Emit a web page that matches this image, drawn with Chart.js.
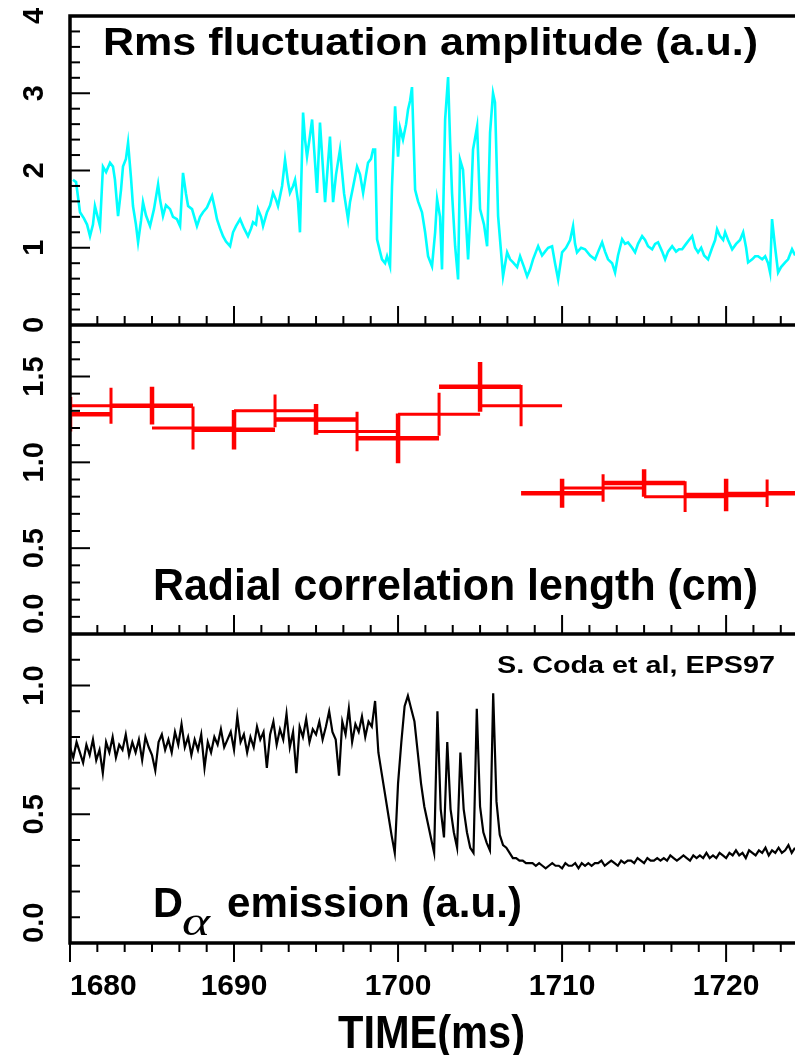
<!DOCTYPE html>
<html>
<head>
<meta charset="utf-8">
<script src="https://cdn.jsdelivr.net/npm/chart.js@4.4.1/dist/chart.umd.min.js"></script>
<style>
  html, body { margin: 0; padding: 0; background: #fff; overflow: hidden; }
  #wrap { position: relative; width: 795px; height: 1055px; }
</style>
</head>
<body>
<div id="wrap"><canvas id="chart"></canvas></div>
<script>
// shared time axis (ms)
const timeMin = 1680;
const timeMax = 1724.2;
const timeTicks = [1680, 1690, 1700, 1710, 1720];
const timeMinorStep = 10 / 6;

// top panel: rms fluctuation amplitude
const rmsTime = [
  1680.18, 1680.37, 1680.61, 1680.85, 1681.04, 1681.22, 1681.40, 1681.52, 1681.71, 1681.83,
  1682.01, 1682.20, 1682.44, 1682.62, 1682.74, 1682.93, 1683.11, 1683.23, 1683.41, 1683.54,
  1683.72, 1683.84, 1684.02, 1684.15, 1684.33, 1684.45, 1684.63, 1684.88, 1685.12, 1685.37,
  1685.49, 1685.67, 1685.85, 1686.10, 1686.28, 1686.52, 1686.71, 1686.89, 1687.07, 1687.20,
  1687.44, 1687.74, 1687.93, 1688.11, 1688.35, 1688.66, 1688.84, 1688.96, 1689.15, 1689.33,
  1689.51, 1689.76, 1689.94, 1690.12, 1690.37, 1690.61, 1690.85, 1691.04, 1691.16, 1691.34,
  1691.46, 1691.65, 1691.77, 1692.01, 1692.20, 1692.38, 1692.56, 1692.68, 1692.93, 1693.11,
  1693.29, 1693.41, 1693.60, 1693.72, 1693.90, 1694.02, 1694.21, 1694.33, 1694.45, 1694.63,
  1694.76, 1694.94, 1695.06, 1695.24, 1695.43, 1695.55, 1695.73, 1695.85, 1696.04, 1696.22,
  1696.46, 1696.71, 1696.95, 1697.07, 1697.26, 1697.50, 1697.68, 1697.87, 1698.05, 1698.17,
  1698.35, 1698.48, 1698.60, 1698.72, 1698.90, 1699.02, 1699.21, 1699.33, 1699.51, 1699.63,
  1699.82, 1700.00, 1700.12, 1700.30, 1700.49, 1700.61, 1700.73, 1700.85, 1701.04, 1701.22,
  1701.46, 1701.65, 1701.83, 1702.07, 1702.26, 1702.38, 1702.56, 1702.68, 1702.87, 1703.05,
  1703.17, 1703.29, 1703.48, 1703.66, 1703.78, 1703.96, 1704.15, 1704.27, 1704.45, 1704.57,
  1704.82, 1705.00, 1705.24, 1705.43, 1705.61, 1705.79, 1705.91, 1706.10, 1706.22, 1706.40,
  1706.65, 1706.83, 1707.01, 1707.26, 1707.44, 1707.68, 1707.87, 1708.05, 1708.23, 1708.41,
  1708.54, 1708.78, 1708.96, 1709.15, 1709.39, 1709.57, 1709.76, 1710.00, 1710.24, 1710.49,
  1710.67, 1710.79, 1710.91, 1711.16, 1711.40, 1711.71, 1712.01, 1712.20, 1712.44, 1712.62,
  1712.80, 1713.05, 1713.23, 1713.41, 1713.66, 1713.84, 1714.02, 1714.27, 1714.45, 1714.63,
  1714.88, 1715.06, 1715.24, 1715.49, 1715.67, 1715.85, 1716.10, 1716.28, 1716.46, 1716.71,
  1716.95, 1717.13, 1717.32, 1717.56, 1717.74, 1717.93, 1718.11, 1718.29, 1718.48, 1718.66,
  1718.90, 1719.15, 1719.33, 1719.45, 1719.63, 1719.82, 1719.94, 1720.12, 1720.37, 1720.61,
  1720.85, 1721.04, 1721.22, 1721.34, 1721.59, 1721.77, 1721.95, 1722.20, 1722.38, 1722.56,
  1722.68, 1722.80, 1722.99, 1723.17, 1723.35, 1723.60, 1723.78, 1724.02, 1724.21,
];
const rmsValue = [
  1.88, 1.85, 1.46, 1.38, 1.30, 1.15, 1.30, 1.54, 1.38, 1.28,
  2.05, 1.98, 2.10, 2.05, 1.88, 1.41, 1.75, 2.05, 2.15, 2.36,
  1.90, 1.54, 1.30, 1.07, 1.35, 1.59, 1.42, 1.28, 1.50, 1.82,
  1.62, 1.41, 1.55, 1.50, 1.40, 1.37, 1.28, 1.97, 1.70, 1.54,
  1.50, 1.28, 1.40, 1.46, 1.52, 1.67, 1.50, 1.37, 1.25, 1.15,
  1.08, 1.02, 1.20, 1.28, 1.37, 1.25, 1.15, 1.25, 1.33, 1.30,
  1.50, 1.40, 1.28, 1.46, 1.55, 1.71, 1.62, 1.54, 1.80, 2.14,
  1.85, 1.71, 1.80, 1.88, 1.60, 1.20, 2.75, 2.40, 2.18, 2.45,
  2.66, 2.10, 1.71, 2.62, 2.00, 1.59, 2.10, 2.44, 1.59, 1.95,
  2.27, 1.70, 1.37, 1.59, 1.79, 2.05, 1.95, 1.71, 1.95, 2.10,
  2.15, 2.27, 2.27, 1.11, 0.95, 0.85, 0.80, 0.89, 0.76, 1.79,
  2.83, 2.18, 2.55, 2.40, 2.60, 2.79, 2.90, 3.08, 1.75, 1.60,
  1.46, 1.20, 0.89, 0.76, 1.20, 1.63, 1.40, 0.72, 2.66, 3.21,
  2.40, 1.71, 1.02, 0.59, 2.14, 2.01, 1.30, 0.85, 1.60, 2.27,
  2.57, 1.50, 1.30, 1.02, 2.49, 3.00, 2.88, 1.41, 1.10, 0.63,
  0.94, 0.85, 0.81, 0.75, 0.89, 0.75, 0.63, 0.72, 0.85, 0.95,
  1.02, 0.90, 0.95, 1.00, 1.02, 0.80, 0.59, 0.94, 1.00, 1.10,
  1.28, 1.05, 0.94, 1.00, 0.98, 0.90, 0.85, 0.95, 1.07, 0.95,
  0.85, 0.80, 0.68, 0.90, 1.11, 1.05, 1.07, 1.00, 0.94, 1.05,
  1.15, 1.10, 1.02, 0.98, 1.05, 1.07, 0.95, 0.85, 0.95, 1.02,
  0.95, 0.98, 0.98, 1.05, 1.10, 1.15, 1.00, 0.94, 1.00, 0.90,
  0.85, 1.00, 1.10, 1.24, 1.15, 1.10, 1.20, 1.10, 0.98, 1.05,
  1.10, 1.20, 1.00, 0.81, 0.85, 0.89, 0.89, 0.85, 0.89, 0.80,
  0.68, 1.37, 1.00, 0.68, 0.75, 0.81, 0.85, 0.98, 0.90,
];
const rmsTicks = [0, 1, 2, 3, 4];
const rmsTickLabels = ['0', '1', '2', '3', '4'];

// middle panel: radial correlation length, two interleaved sets of 5 ms windows
const corrHalfWidth = 2.5;
const corrCentersA = [1680, 1685, 1690, 1695, 1700, 1705, 1710, 1715, 1720, 1725];
const corrValuesA = [1.28, 1.33, 1.19, 1.25, 1.14, 1.44, 0.82, 0.88, 0.81, 0.82];
const corrErrorsA = [0.10, 0.11, 0.115, 0.09, 0.145, 0.145, 0.085, 0.08, 0.095, 0.08];
const corrCentersB = [1682.5, 1687.5, 1692.5, 1697.5, 1702.5, 1707.5, 1712.5, 1717.5, 1722.5];
const corrValuesB = [1.33, 1.20, 1.30, 1.18, 1.28, 1.33, 0.85, 0.80, 0.82];
const corrErrorsB = [0.105, 0.125, 0.095, 0.115, 0.125, 0.12, 0.08, 0.09, 0.08];
const corrTicks = [0, 0.5, 1.0, 1.5];
const corrTickLabels = ['0.0', '0.5', '1.0', '1.5'];

// bottom panel: D-alpha emission, sampled every 0.2 ms from 1680 ms
const daStart = 1680;
const daStep = 0.2;
const daValue = [
  0.76, 0.72, 0.78, 0.74, 0.70, 0.77, 0.73, 0.79, 0.71, 0.75,
  0.66, 0.78, 0.74, 0.80, 0.72, 0.77, 0.75, 0.81, 0.73, 0.78,
  0.74, 0.79, 0.71, 0.80, 0.76, 0.73, 0.67, 0.78, 0.81, 0.75,
  0.79, 0.74, 0.82, 0.77, 0.85, 0.76, 0.80, 0.73, 0.79, 0.75,
  0.81, 0.68, 0.78, 0.74, 0.80, 0.77, 0.83, 0.76, 0.79, 0.82,
  0.75, 0.88, 0.78, 0.81, 0.74, 0.80, 0.76, 0.84, 0.79, 0.82,
  0.68, 0.81, 0.86, 0.77, 0.83, 0.79, 0.89, 0.76, 0.82, 0.66,
  0.84, 0.80, 0.87, 0.78, 0.83, 0.81, 0.86, 0.79, 0.84, 0.90,
  0.82, 0.79, 0.65, 0.86, 0.81, 0.91, 0.78, 0.85, 0.82, 0.88,
  0.80, 0.86, 0.84, 0.94, 0.74, 0.66, 0.58, 0.50, 0.42, 0.35,
  0.62, 0.78, 0.92, 0.96, 0.91, 0.86, 0.74, 0.62, 0.53, 0.47,
  0.41, 0.35, 0.90, 0.52, 0.41, 0.78, 0.52, 0.43, 0.37, 0.74,
  0.52, 0.43, 0.37, 0.35, 0.91, 0.53, 0.43, 0.39, 0.36, 0.97,
  0.55, 0.42, 0.38, 0.37, 0.35, 0.33, 0.33, 0.32, 0.32, 0.31,
  0.31, 0.31, 0.30, 0.31, 0.30, 0.29, 0.30, 0.31, 0.30, 0.30,
  0.29, 0.31, 0.30, 0.30, 0.31, 0.29, 0.31, 0.30, 0.31, 0.30,
  0.31, 0.31, 0.32, 0.30, 0.31, 0.32, 0.31, 0.30, 0.32, 0.31,
  0.32, 0.32, 0.31, 0.33, 0.32, 0.31, 0.33, 0.32, 0.32, 0.33,
  0.32, 0.33, 0.32, 0.34, 0.33, 0.32, 0.33, 0.34, 0.33, 0.32,
  0.34, 0.33, 0.34, 0.33, 0.35, 0.33, 0.34, 0.33, 0.35, 0.34,
  0.33, 0.35, 0.34, 0.36, 0.34, 0.35, 0.33, 0.36, 0.35, 0.34,
  0.36, 0.35, 0.37, 0.34, 0.36, 0.35, 0.37, 0.35, 0.36, 0.38,
  0.35, 0.37, 0.36,
];
const daTicks = [0, 0.5, 1.0];
const daTickLabels = ['0.0', '0.5', '1.0'];

const sans = '"Liberation Sans", Arial, Helvetica, sans-serif';

const crossPoints = (centers, values, errors) => {
  const pts = [];
  centers.forEach((c, i) => {
    const v = values[i];
    pts.push({ x: c - corrHalfWidth, y: v }, { x: c + corrHalfWidth, y: v }, { x: c, y: null });
    pts.push({ x: c, y: v - errors[i] }, { x: c, y: v + errors[i] }, { x: c, y: null });
  });
  return pts;
};

const drawText = (ctx, text, x, y, size, width, style = 'bold', family = sans) => {
  ctx.save();
  ctx.font = `${style} ${size}px ${family}`;
  ctx.fillStyle = '#000';
  ctx.textAlign = 'left';
  ctx.textBaseline = 'alphabetic';
  const natural = ctx.measureText(text).width;
  ctx.translate(x, y);
  if (width) ctx.scale(width / natural, 1);
  ctx.fillText(text, 0, 0);
  ctx.restore();
};

const near = (list, v) => list.some((t) => Math.abs(t - v) < 1e-6);

const framePlugin = {
  id: 'frame',
  afterDraw(chart) {
    const { ctx, chartArea, scales } = chart;
    const xs = scales.x;
    const panels = [
      { scale: scales.yRms, ticks: rmsTicks, labels: rmsTickLabels, step: 0.2, bottomAlign: 'center' },
      { scale: scales.yCorr, ticks: corrTicks, labels: corrTickLabels, step: 0.1, bottomAlign: 'left' },
      { scale: scales.yDa, ticks: daTicks, labels: daTickLabels, step: 0.1, bottomAlign: 'left' },
    ];
    const left = chartArea.left;
    const right = chartArea.right;

    ctx.save();
    ctx.strokeStyle = '#000';
    ctx.lineWidth = 2;

    // left axis ticks, pointing inward
    panels.forEach((p) => {
      const { min, max } = p.scale;
      const n = Math.round((max - min) / p.step);
      for (let k = 0; k <= n; k++) {
        const v = min + k * p.step;
        const y = p.scale.getPixelForValue(v);
        const len = near(p.ticks, v) ? 20 : 10;
        ctx.beginPath();
        ctx.moveTo(left, y);
        ctx.lineTo(left + len, y);
        ctx.stroke();
      }
    });

    // time ticks: inward on the two upper panel bottoms, outward below the last panel
    const tickRows = [
      { y: scales.yRms.bottom, dir: -1 },
      { y: scales.yCorr.bottom, dir: -1 },
      { y: scales.yDa.bottom, dir: 1 },
    ];
    const nx = Math.floor((timeMax - timeMin) / timeMinorStep + 1e-6);
    for (let k = 0; k <= nx; k++) {
      const t = timeMin + k * timeMinorStep;
      const x = xs.getPixelForValue(t);
      const major = near(timeTicks, Math.round(t * 1000) / 1000);
      tickRows.forEach((row) => {
        const len = major ? 19 : 9;
        ctx.beginPath();
        ctx.moveTo(x, row.y);
        ctx.lineTo(x, row.y + row.dir * len);
        ctx.stroke();
      });
    }

    // frame
    ctx.lineWidth = 3.5;
    ctx.beginPath();
    ctx.moveTo(left, chartArea.top - 1.75);
    ctx.lineTo(left, chartArea.bottom + 1.75);
    [chartArea.top, scales.yRms.bottom, scales.yCorr.bottom, chartArea.bottom].forEach((y) => {
      ctx.moveTo(left - 1.75, y);
      ctx.lineTo(right + 2, y);
    });
    ctx.stroke();

    // rotated y tick labels
    ctx.fillStyle = '#000';
    ctx.font = `bold 29px ${sans}`;
    ctx.textBaseline = 'alphabetic';
    panels.forEach((p) => {
      p.ticks.forEach((v, i) => {
        const y = p.scale.getPixelForValue(v);
        ctx.save();
        ctx.translate(43, y);
        ctx.rotate(-Math.PI / 2);
        ctx.textAlign = v === p.scale.min ? p.bottomAlign : 'center';
        ctx.fillText(p.labels[i], 0, 0);
        ctx.restore();
      });
    });

    // time tick labels
    ctx.font = `bold 30px ${sans}`;
    timeTicks.forEach((t, i) => {
      const x = xs.getPixelForValue(t);
      ctx.textAlign = i === 0 ? 'left' : 'center';
      ctx.fillText(String(t), x, 995);
    });
    ctx.restore();

    // panel captions and axis title
    drawText(ctx, 'Rms fluctuation amplitude (a.u.)', 103, 55, 39, 655);
    drawText(ctx, 'Radial correlation length (cm)', 153, 600, 44, 605);
    drawText(ctx, 'D', 153, 917, 42, 30);
    drawText(ctx, '\u03B1', 182, 935, 40, 28, 'italic', '"Liberation Serif", "Times New Roman", serif');
    drawText(ctx, 'emission (a.u.)', 227, 917, 42, 295);
    drawText(ctx, 'S. Coda et al, EPS97', 497, 673, 24, 278);
    drawText(ctx, 'TIME(ms)', 338, 1048, 46, 187);
  },
};

const panelAxis = (min, max, weight) => ({
  type: 'linear',
  position: 'left',
  stack: 'panels',
  stackWeight: 1,
  weight,
  min,
  max,
  grid: { display: false },
  border: { display: false },
  ticks: { display: false },
  afterFit: (scale) => { scale.width = 70; },
});

new Chart(document.getElementById('chart'), {
  type: 'line',
  data: {
    datasets: [
      {
        label: 'Rms fluctuation amplitude',
        yAxisID: 'yRms',
        data: rmsTime.map((t, i) => ({ x: t, y: rmsValue[i] })),
        borderColor: '#00ffff',
        borderWidth: 2.6,
        pointRadius: 0,
        tension: 0,
      },
      {
        label: 'Correlation length A',
        yAxisID: 'yCorr',
        data: crossPoints(corrCentersA, corrValuesA, corrErrorsA),
        borderColor: '#ff0000',
        borderWidth: 4.5,
        borderCapStyle: 'butt',
        pointRadius: 0,
        spanGaps: false,
      },
      {
        label: 'Correlation length B',
        yAxisID: 'yCorr',
        data: crossPoints(corrCentersB, corrValuesB, corrErrorsB),
        borderColor: '#ff0000',
        borderWidth: 3,
        borderCapStyle: 'butt',
        pointRadius: 0,
        spanGaps: false,
      },
      {
        label: 'D-alpha emission',
        yAxisID: 'yDa',
        data: daValue.map((v, i) => ({ x: daStart + i * daStep, y: v })),
        borderColor: '#000000',
        borderWidth: 2.2,
        pointRadius: 0,
        tension: 0,
      },
    ],
  },
  options: {
    responsive: true,
    maintainAspectRatio: false,
    animation: false,
    events: [],
    devicePixelRatio: 1,
    layout: { padding: { top: 16, left: 0, right: 0, bottom: 0 } },
    plugins: {
      legend: { display: false },
      tooltip: { enabled: false },
    },
    scales: {
      x: {
        type: 'linear',
        position: 'bottom',
        min: timeMin,
        max: timeMax,
        grid: { display: false },
        border: { display: false },
        ticks: { display: false },
        afterFit: (scale) => { scale.height = 112; },
      },
      yRms: panelAxis(0, 4, 3),
      yCorr: panelAxis(0, 1.8, 2),
      yDa: panelAxis(0, 1.2, 1),
    },
  },
  plugins: [framePlugin],
});
</script>
</body>
</html>
